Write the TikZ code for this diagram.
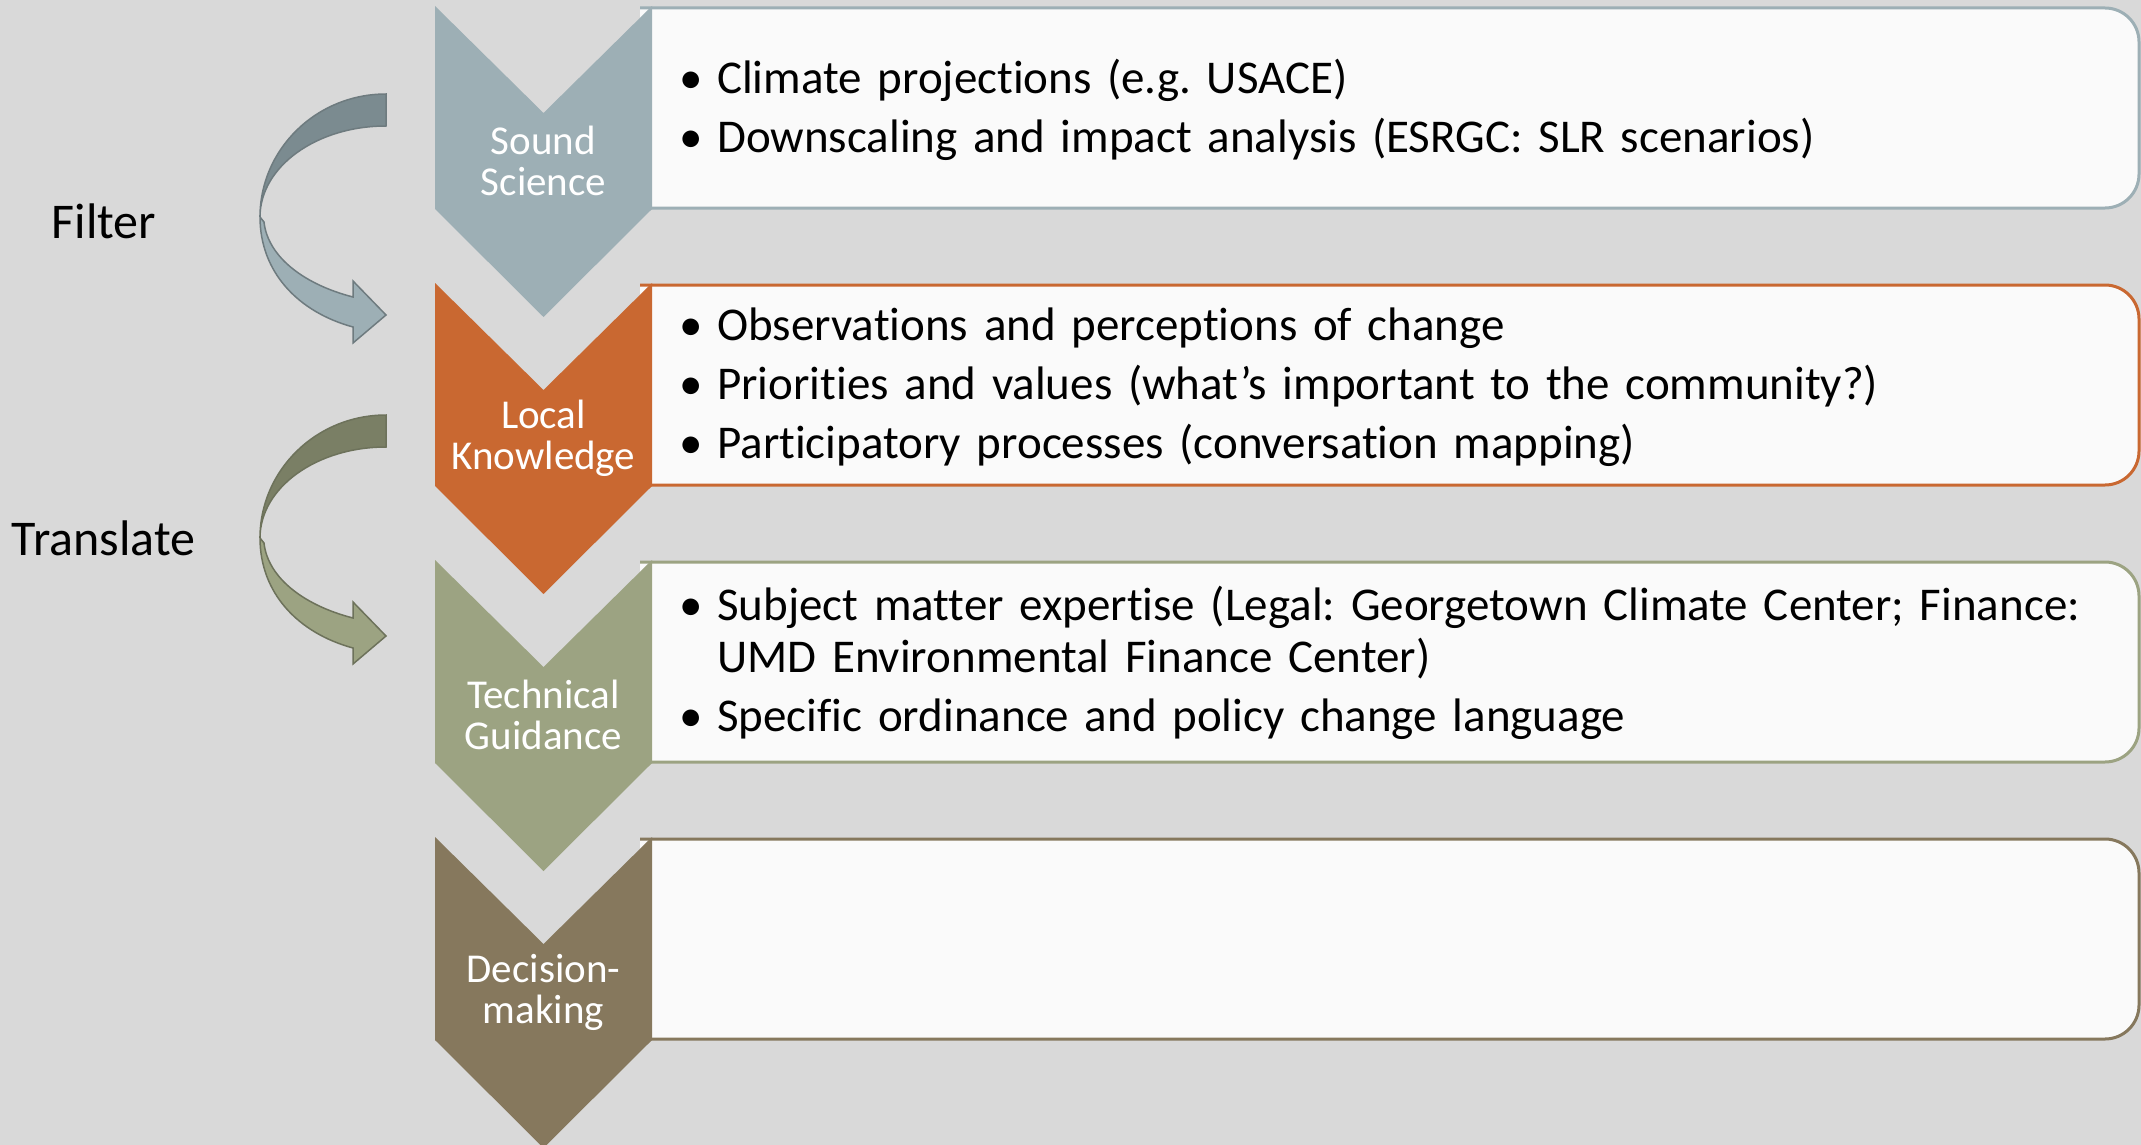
\documentclass[tikz,border=0pt]{standalone}
\usepackage{fontspec}
\setmainfont[Ligatures=NoCommon]{Carlito}
\frenchspacing

\definecolor{bggray}{HTML}{D9D9D9}
\definecolor{boxwhite}{HTML}{FAFAFA}
\definecolor{science}{HTML}{9DAFB5}
\definecolor{local}{HTML}{C96831}
\definecolor{technical}{HTML}{9CA382}
\definecolor{decision}{HTML}{86785D}
\definecolor{filterback}{HTML}{7B8B90}
\definecolor{translateback}{HTML}{7A7F65}

\tikzset{
  stagelabel/.style={text=white, align=center, inner sep=0pt, font=\fontsize{41}{41}\selectfont},
  itemtext/.style={anchor=west, inner sep=0pt, text width=1440pt, align=left, font=\fontsize{47}{52}\selectfont},
  sidelabel/.style={anchor=base, inner sep=0pt, font=\fontsize{50}{60}\selectfont},
}
\newcommand\bul[1]{\par\hangindent=38pt\hangafter=1\noindent\hbox to 38pt{\textbullet\hfil}#1\par}
\newcommand\nextbul[1]{\vspace{7pt}\bul{#1}}

\begin{document}
\begin{tikzpicture}[x=1pt,y=-1pt]
  \clip (0,0) rectangle (2141,1145);
  \fill[bggray] (0,0) rectangle (2141,1145);
  \foreach \i/\col/\lbl in {0/science/{Sound\\Science}, 1/local/{Local\\Knowledge}, 2/technical/{Technical\\Guidance}, 3/decision/{Decision-\\making}} {
    \filldraw[fill=boxwhite, draw=\col, line width=3pt, rounded corners=34pt] (640,8+277*\i) -- (2139,8+277*\i) -- (2139,208+277*\i) -- (640,208+277*\i);
    \fill[\col] (435,6+277*\i) -- (543.5,113+277*\i) -- (652,6+277*\i) -- (652,209+277*\i) -- (543.5,317+277*\i) -- (435,209+277*\i) -- cycle;
    \node[stagelabel] (stage\i) at (543.5,161+277*\i) {\lbl};
  }
  \node[itemtext] (scienceitems) at (679,101) {\bul{Climate projections (e.g. USACE)}\nextbul{Downscaling and impact analysis (ESRGC: SLR scenarios)}};
  \node[itemtext] (localitems) at (679,378) {\bul{Observations and perceptions of change}\nextbul{Priorities and values (what’s important to the community?)}\nextbul{Participatory processes (conversation mapping)}};
  \node[itemtext] (technicalitems) at (679,654) {\bul{Subject matter expertise (Legal: Georgetown Climate Center; Finance:\newline UMD Environmental Finance Center)}\nextbul{Specific ordinance and policy change language}};
  \foreach \dy/\back/\front in {0/filterback/science, 321/translateback/technical} {
    \filldraw[fill=\back, draw=\front!70!black, line width=1.5pt, shift={(0,\dy)}] (386,94) arc[start angle=-90, end angle=-180, x radius=126, y radius=123] arc[start angle=-180, end angle=-90, x radius=126, y radius=91] -- cycle;
    \filldraw[fill=\front, draw=\front!70!black, line width=1.5pt, shift={(0,\dy)}] (260,217) .. controls (260,272) and (298,312) .. (353,327) -- (353,343) -- (386,315) -- (353,281) -- (353,297) .. controls (306,285) and (268,258) .. (264,222) -- cycle;
  }
  \node[sidelabel] (filter) at (104,238) {Filter};
  \node[sidelabel] (translate) at (103.5,555) {Translate};
\end{tikzpicture}
\end{document}
